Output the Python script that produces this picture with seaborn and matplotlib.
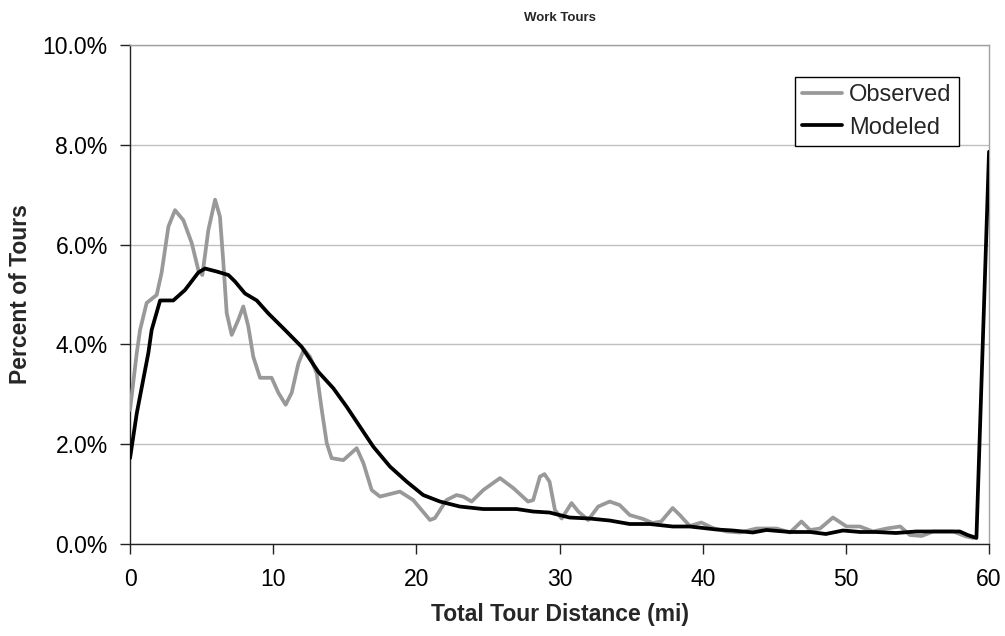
import matplotlib
matplotlib.use("Agg")
import matplotlib.pyplot as plt
from matplotlib.ticker import FuncFormatter
import numpy as np
import pandas as pd
import seaborn as sns

# Work tour length distribution: observed survey vs. model output (percent of tours)
obs_dist = [0, 0.47, 0.7, 1.16, 1.86, 2.2, 2.68, 3.14, 3.72, 4.31, 4.77, 5.05, 5.47,
            5.94, 6.28, 6.52, 6.75, 7.1, 7.56, 7.91, 8.26, 8.61, 9.08, 9.89, 10.36,
            10.87, 11.29, 11.76, 12.15, 12.57, 13.04, 13.39, 13.74, 14.08, 14.9,
            15.83, 16.3, 16.88, 17.46, 18.85, 19.78, 20.95, 21.3, 22.1, 22.8, 23.27,
            23.86, 24.67, 25.84, 26.77, 27.8, 28.16, 28.63, 28.95, 29.3, 29.68,
            30.15, 30.84, 31.31, 32.0, 32.7, 33.5, 34.2, 34.9, 35.85, 36.5, 37.1,
            37.9, 38.4, 39.1, 39.9, 40.7, 41.67, 42.6, 43.76, 44.4, 45.15, 46.1,
            46.9, 47.5, 48.2, 49.1, 50.05, 50.98, 51.9, 52.84, 53.8, 54.47, 55.3,
            56.1, 57.5, 58.4, 58.9]
obs_pct = [2.69, 3.83, 4.29, 4.83, 4.99, 5.43, 6.36, 6.69, 6.49, 6.03, 5.49, 5.39,
           6.29, 6.9, 6.56, 5.63, 4.63, 4.19, 4.49, 4.76, 4.36, 3.75, 3.33, 3.33,
           3.03, 2.79, 3.03, 3.62, 3.9, 3.75, 3.42, 2.69, 2.02, 1.72, 1.68, 1.92,
           1.62, 1.08, 0.95, 1.05, 0.88, 0.48, 0.52, 0.88, 0.98, 0.95, 0.85, 1.08,
           1.32, 1.12, 0.85, 0.88, 1.35, 1.40, 1.25, 0.68, 0.51, 0.82, 0.65, 0.48,
           0.75, 0.85, 0.78, 0.58, 0.50, 0.42, 0.45, 0.72, 0.58, 0.36, 0.43, 0.32,
           0.25, 0.23, 0.31, 0.31, 0.31, 0.23, 0.45, 0.28, 0.31, 0.53, 0.35, 0.35,
           0.25, 0.31, 0.35, 0.18, 0.16, 0.25, 0.25, 0.15, 0.12]

mod_dist = [0, 0.47, 1.28, 1.51, 2.1, 3.02, 3.84, 4.77, 5.24, 6.05, 6.87, 7.33, 8.03,
            8.85, 9.66, 10.82, 11.99, 13.15, 14.2, 15.13, 16.06, 16.99, 18.16, 19.32,
            20.48, 21.65, 23.04, 24.67, 27.0, 28.16, 29.3, 30.7, 32.1, 33.5, 34.9,
            36.3, 37.9, 39.1, 40.95, 42.1, 43.5, 44.45, 46.1, 47.5, 48.6, 49.8, 51.0,
            52.1, 53.5, 54.9, 56.1, 57.96, 58.5, 59.12, 60.0]
mod_pct = [1.72, 2.62, 3.83, 4.29, 4.88, 4.88, 5.09, 5.44, 5.52, 5.46, 5.39, 5.26,
           5.02, 4.88, 4.62, 4.29, 3.95, 3.45, 3.12, 2.75, 2.35, 1.95, 1.55, 1.25,
           0.98, 0.85, 0.75, 0.70, 0.70, 0.65, 0.63, 0.53, 0.51, 0.47, 0.40, 0.40,
           0.35, 0.35, 0.29, 0.27, 0.23, 0.28, 0.24, 0.24, 0.20, 0.27, 0.24, 0.24,
           0.22, 0.25, 0.25, 0.25, 0.18, 0.12, 7.86]

series_names = ["Observed", "Modeled"]
series_colors = ["#999999", "#000000"]
x_ticks = [0, 10, 20, 30, 40, 50, 60]
y_ticks = [0, 2, 4, 6, 8, 10]

df = pd.concat([
    pd.DataFrame({"dist": obs_dist, "pct": obs_pct, "series": series_names[0]}),
    pd.DataFrame({"dist": mod_dist, "pct": mod_pct, "series": series_names[1]}),
], ignore_index=True)

sns.set_theme(style="white")
plt.rcParams["font.family"] = ["Liberation Sans", "DejaVu Sans"]

fig = plt.figure(figsize=(10.05, 6.36), dpi=100)
ax = fig.add_axes([0.1294, 0.1447, 0.8547, 0.7846])

sns.lineplot(data=df, x="dist", y="pct", hue="series", hue_order=series_names,
             palette=dict(zip(series_names, series_colors)), estimator=None,
             sort=False, linewidth=2.7, ax=ax, zorder=3)

ax.set_xlim(0, 60)
ax.set_ylim(0, 10)
ax.set_xticks(x_ticks)
ax.set_yticks(y_ticks)
ax.yaxis.set_major_formatter(FuncFormatter(lambda v, _: f"{v:.1f}%"))

ax.yaxis.grid(True, color="#c0c0c0", linewidth=1)
ax.xaxis.grid(False)
ax.set_axisbelow(True)

for side in ("left", "bottom"):
    ax.spines[side].set_color("#222222")
    ax.spines[side].set_linewidth(1)
for side in ("top", "right"):
    ax.spines[side].set_color("#a0a0a0")
    ax.spines[side].set_linewidth(1)

ax.tick_params(axis="both", direction="out", length=7, width=1, color="#222222",
               labelsize=16.5, labelcolor="#000000", left=True, bottom=True)
ax.tick_params(axis="y", pad=9)
ax.tick_params(axis="x", pad=10)

ax.set_title("Work Tours", fontsize=9.5, fontweight="bold", pad=17)
ax.set_xlabel("Total Tour Distance (mi)", fontsize=16.5, fontweight="bold", labelpad=9)
ax.set_ylabel("Percent of Tours", fontsize=16.5, fontweight="bold", labelpad=8)

leg = ax.legend(loc="upper right", bbox_to_anchor=(0.965, 0.936), borderaxespad=0,
                frameon=True, fancybox=False, framealpha=1, edgecolor="#000000",
                fontsize=17, handlelength=1.7, handletextpad=0.3,
                labelspacing=0.45, borderpad=0.3)
leg.get_frame().set_linewidth(1)
leg.set_zorder(5)

fig.savefig("out.png", dpi=100)
